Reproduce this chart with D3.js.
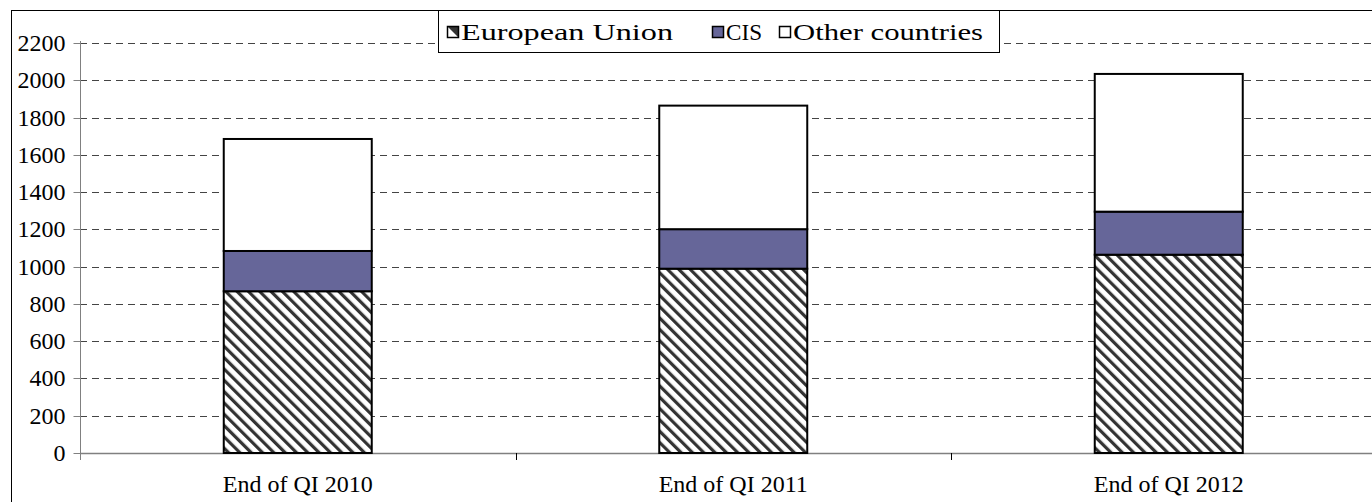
<!DOCTYPE html>
<html>
<head>
<meta charset="utf-8">
<script src="https://cdn.jsdelivr.net/npm/d3@7"></script>
<style>
  html, body { margin: 0; padding: 0; background: #fff; }
  svg { display: block; }
  svg text { font-family: "Liberation Serif", Tinos, "Times New Roman", "DejaVu Serif", serif; }
</style>
</head>
<body>
<svg id="chart" width="1372" height="502"></svg>
<script>
// Stacked values by period
const categories = ["End of QI 2010", "End of QI 2011", "End of QI 2012"];
const seriesNames = ["European Union", "CIS", "Other countries"];
const euValues = [868, 989, 1064];
const cisValues = [216, 212, 231];
const otherValues = [601, 663, 739];
const yTicks = [0, 200, 400, 600, 800, 1000, 1200, 1400, 1600, 1800, 2000, 2200];

const FONT = '"Liberation Serif", Tinos, "Times New Roman", "DejaVu Serif", serif';
const FS = "24px";

const rows = categories.map((c, i) => ({
  category: c,
  "European Union": euValues[i],
  "CIS": cisValues[i],
  "Other countries": otherValues[i]
}));

const svg = d3.select("#chart");
const W = 1372, H = 502;
const plot = { left: 80, right: 1386.5, top: 43, bottom: 453 };

// Outer chart frame (runs past the right and bottom edges)
svg.append("rect")
  .attr("x", 11.5).attr("y", 10.5)
  .attr("width", W + 20).attr("height", H + 20)
  .attr("fill", "#fff").attr("stroke", "#000").attr("stroke-width", 1);

// Diagonal hatch for the EU segment (top-left to bottom-right stripes)
const defs = svg.append("defs");
const pat = defs.append("pattern")
  .attr("id", "hatch")
  .attr("patternUnits", "userSpaceOnUse")
  .attr("width", 8).attr("height", 8)
  .attr("patternTransform", "rotate(-45)");
pat.append("rect").attr("width", 8).attr("height", 8).attr("fill", "#fff");
pat.append("rect").attr("x", 0).attr("y", 0).attr("width", 3.2).attr("height", 8).attr("fill", "#333");

const x = d3.scaleBand().domain(categories).range([plot.left, plot.right]);
const y = d3.scaleLinear().domain([0, 2200]).range([plot.bottom, plot.top]);
const barW = 148;

// Dashed gridlines
svg.append("g").selectAll("line")
  .data(yTicks.filter(v => v > 0))
  .join("line")
  .attr("x1", plot.left).attr("x2", W)
  .attr("y1", d => Math.round(y(d)) + 0.5).attr("y2", d => Math.round(y(d)) + 0.5)
  .attr("stroke", "#444").attr("stroke-width", 1)
  .attr("stroke-dasharray", "7,5");

// Y axis
const yAxis = d3.axisLeft(y).tickValues(yTicks).tickSize(7).tickPadding(8).tickFormat(d3.format("d"));
const gy = svg.append("g")
  .attr("transform", `translate(${plot.left + 0.5},0)`)
  .call(yAxis)
  .attr("font-family", null).attr("font-size", null);
gy.select(".domain").attr("stroke", "#808080").attr("d", `M0,${plot.top - 2}V${plot.bottom + 7}`);
gy.selectAll(".tick line").attr("stroke", "#808080");
gy.selectAll(".tick").attr("transform", d => `translate(0,${Math.round(y(d)) + 0.5})`);
gy.selectAll(".tick text").attr("dy", "0.33em").attr("fill", "#000")
  .style("font-size", FS).style("font-family", FONT);

// X axis
const xAxis = d3.axisBottom(x).tickSize(0).tickPadding(0);
const gx = svg.append("g")
  .attr("transform", `translate(0,${plot.bottom + 0.5})`)
  .call(xAxis)
  .attr("font-family", null).attr("font-size", null);
gx.select(".domain").attr("stroke", "#808080").attr("stroke-width", 1.5).attr("d", `M${plot.left},0H${W}`);
gx.selectAll(".tick text").attr("y", 31).attr("dy", "0.33em").attr("fill", "#000")
  .style("font-size", FS).style("font-family", FONT);
// category separators
svg.append("g").selectAll("line")
  .data(categories.slice(1))
  .join("line")
  .attr("x1", d => Math.round(x(d)) + 0.5).attr("x2", d => Math.round(x(d)) + 0.5)
  .attr("y1", plot.bottom).attr("y2", plot.bottom + 7)
  .attr("stroke", "#000").attr("stroke-width", 1);

// Stacked bars
const stack = d3.stack().keys(seriesNames);
const layers = stack(rows);
const fills = { "European Union": "url(#hatch)", "CIS": "#666699", "Other countries": "#fff" };

svg.append("g").selectAll("g")
  .data(layers)
  .join("g")
  .attr("fill", d => fills[d.key])
  .selectAll("rect")
  .data(d => d)
  .join("rect")
  .attr("x", d => x(d.data.category) + x.bandwidth() / 2 - barW / 2)
  .attr("width", barW)
  .attr("y", d => y(d[1]))
  .attr("height", d => y(d[0]) - y(d[1]))
  .attr("stroke", "#000").attr("stroke-width", 2);

// Legend
const legend = svg.append("g");
legend.append("rect")
  .attr("x", 438.5).attr("y", 10.5).attr("width", 561).attr("height", 42)
  .attr("fill", "#fff").attr("stroke", "#000").attr("stroke-width", 1);
const legendItems = [
  { name: "European Union", x: 447, w: 212 },
  { name: "CIS", x: 712, w: 36 },
  { name: "Other countries", x: 779, w: 190 }
];
legendItems.forEach(it => {
  const g = legend.append("g").attr("transform", `translate(${it.x},32)`);
  if (it.name === "European Union") {
    g.append("rect").attr("x", 0.5).attr("y", -5.5).attr("width", 11).attr("height", 11)
      .attr("fill", "#fff");
    g.append("path").attr("d", "M1,-5L11.5,-5L11.5,5.5Z").attr("fill", "#333");
    g.append("rect").attr("x", 0.5).attr("y", -5.5).attr("width", 11).attr("height", 11)
      .attr("fill", "none").attr("stroke", "#000").attr("stroke-width", 1.5);
  } else {
    g.append("rect").attr("x", 0.5).attr("y", -5.5).attr("width", 11).attr("height", 11)
      .attr("fill", fills[it.name]).attr("stroke", "#000").attr("stroke-width", 1.5);
  }
  g.append("text").attr("x", 14).attr("y", 0).attr("dy", "0.33em")
    .attr("fill", "#000")
    .attr("textLength", it.w).attr("lengthAdjust", "spacingAndGlyphs")
    .style("font-size", FS).style("font-family", FONT)
    .text(it.name);
});
</script>
</body>
</html>
